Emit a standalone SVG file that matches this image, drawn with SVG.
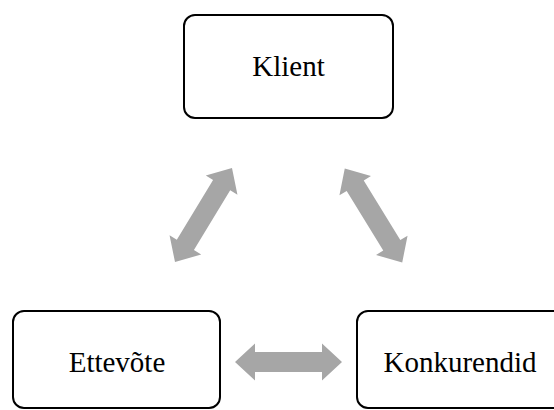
<svg xmlns="http://www.w3.org/2000/svg" width="554" height="410" viewBox="0 0 554 410">
  <style>
    .box { fill: #ffffff; stroke: #000000; stroke-width: 2; }
    .lbl { font-family: "Liberation Serif", "Times New Roman", serif; font-size: 29px; fill: #000000; text-anchor: middle; }
    .arrow { fill: #a6a6a6; stroke: none; }
  </style>
  <rect width="554" height="410" fill="#ffffff"/>
  <g id="connectors">
    <polygon class="arrow" points="-55,0 -35,-18.5 -35,-10 35,-10 35,-18.5 55,0 35,18.5 35,10 -35,10 -35,18.5" transform="translate(203.5,215) rotate(-58.8)"/>
    <polygon class="arrow" points="-55,0 -35,-18.5 -35,-10 35,-10 35,-18.5 55,0 35,18.5 35,10 -35,10 -35,18.5" transform="translate(373.5,215.5) rotate(58.5)"/>
    <polygon class="arrow" points="-53.5,0 -33.5,-18.5 -33.5,-10 33.5,-10 33.5,-18.5 53.5,0 33.5,18.5 33.5,10 -33.5,10 -33.5,18.5" transform="translate(288.5,362)"/>
  </g>
  <g id="klient">
    <rect class="box" x="184" y="15" width="209" height="103" rx="11" ry="11"/>
    <text class="lbl" x="288.5" y="76">Klient</text>
  </g>
  <g id="ettevote">
    <rect class="box" x="13" y="311" width="207" height="97" rx="11" ry="11"/>
    <text class="lbl" x="117" y="372">Ettevõte</text>
  </g>
  <g id="konkurendid">
    <rect class="box" x="357" y="311" width="209" height="97" rx="11" ry="11"/>
    <text class="lbl" x="460" y="372">Konkurendid</text>
  </g>
</svg>
